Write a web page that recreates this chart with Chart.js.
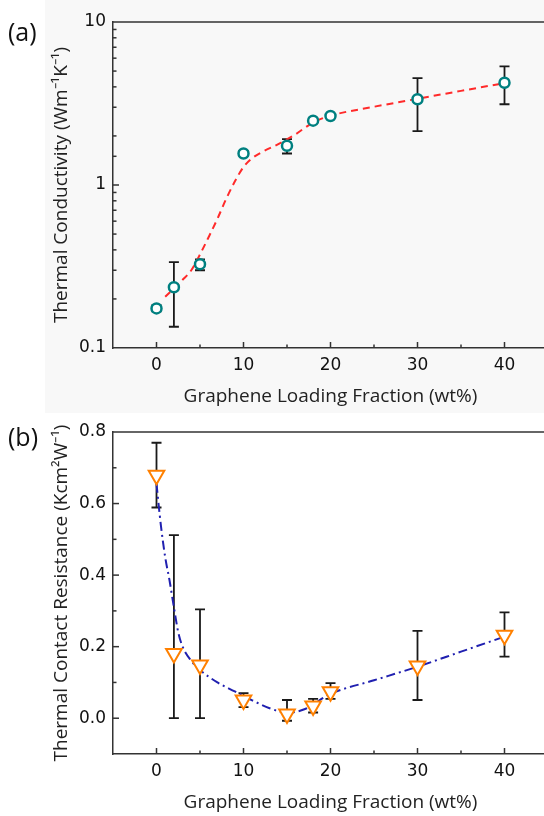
<!DOCTYPE html>
<html>
<head>
<meta charset="utf-8">
<script src="https://cdn.jsdelivr.net/npm/chart.js@4.4.0/dist/chart.umd.min.js"></script>
<style>
  html, body { margin: 0; padding: 0; background: #fff; overflow: hidden; }
  #wrap { position: relative; width: 544px; height: 816px; overflow: hidden; }
  .panel { position: absolute; left: 0; }
  .shade { position: absolute; left: 45px; top: 0; width: 499px; height: 413px; background: #f8f8f8; }
  .tag { position: absolute; left: 8px; font: 25px "Open Sans", sans-serif; color: #111; }
</style>
</head>
<body>
<div id="wrap">
  <div class="shade"></div>
  <canvas id="chartA" class="panel" width="555" height="410" style="top:0"></canvas>
  <canvas id="chartB" class="panel" width="555" height="406" style="top:410px"></canvas>
  <div class="tag" style="top:14px">(a)</div>
  <div class="tag" style="top:419px">(b)</div>
</div>
<script>
// graphene loading (wt%)
const loading = [0, 2, 5, 10, 15, 18, 20, 30, 40];

// (a) thermal conductivity, with error bar ends
const conductivity = [0.175, 0.236, 0.327, 1.56, 1.74, 2.48, 2.65, 3.36, 4.24];
const conductivityHi = [0.183, 0.336, 0.35, 1.62, 1.91, 2.56, 2.73, 4.53, 5.35];
const conductivityLo = [0.168, 0.135, 0.30, 1.51, 1.56, 2.40, 2.58, 2.14, 3.13];
// red dashed guide line
const fitLoadingA = [1, 2, 3, 4, 5, 6, 7, 8, 9, 10, 11, 12, 14, 16, 18, 20, 25, 30, 35, 40];
const fitConductivity = [0.206, 0.232, 0.262, 0.30, 0.375, 0.48, 0.62, 0.82, 1.05, 1.29, 1.46, 1.58, 1.78, 2.05, 2.42, 2.66, 3.02, 3.38, 3.78, 4.22];

// (b) thermal contact resistance, with error bar ends
const resistance = [0.679, 0.181, 0.149, 0.051, 0.012, 0.034, 0.074, 0.146, 0.232];
const resistanceHi = [0.770, 0.512, 0.304, 0.070, 0.051, 0.054, 0.098, 0.244, 0.296];
const resistanceLo = [0.589, 0.0, 0.0, 0.031, -0.007, 0.016, 0.054, 0.051, 0.172];
// blue dash-dot guide line
const fitLoadingB = [0, 0.5, 1, 1.5, 2, 2.5, 3, 4, 5, 7, 9, 11, 13, 15, 17, 20, 25, 30, 35, 40];
const fitResistance = [0.655, 0.54, 0.45, 0.385, 0.31, 0.24, 0.20, 0.16, 0.135, 0.10, 0.075, 0.05, 0.028, 0.015, 0.025, 0.068, 0.106, 0.144, 0.186, 0.228];

const tickFont = { family: "DejaVu Sans", size: 17 };
const titleFont = { family: "Open Sans", size: 19 };

// vertical error bars with caps, under the markers
const errorBars = {
  id: "errorBars",
  beforeDatasetsDraw(chart, args, opts) {
    const ctx = chart.ctx, xs = chart.scales.x, ys = chart.scales.y;
    ctx.save();
    ctx.strokeStyle = "#1a1a1a";
    ctx.lineWidth = 1.8;
    opts.x.forEach((xv, i) => {
      const px = xs.getPixelForValue(xv);
      const top = ys.getPixelForValue(opts.hi[i]);
      const bot = ys.getPixelForValue(opts.lo[i]);
      ctx.beginPath();
      ctx.moveTo(px, top); ctx.lineTo(px, bot);
      ctx.moveTo(px - 5, top); ctx.lineTo(px + 5, top);
      ctx.moveTo(px - 5, bot); ctx.lineTo(px + 5, bot);
      ctx.stroke();
    });
    ctx.restore();
  }
};

// inward tick marks and top frame line
const tickMarks = {
  id: "tickMarks",
  afterDraw(chart) {
    const ctx = chart.ctx, area = chart.chartArea;
    const xs = chart.scales.x, ys = chart.scales.y;
    ctx.save();
    ctx.strokeStyle = "#333";
    ctx.lineWidth = 1.5;
    ctx.beginPath();
    ctx.moveTo(area.left, area.top);
    ctx.lineTo(area.right, area.top);
    ctx.stroke();
    xs.ticks.forEach(t => {
      const px = xs.getPixelForValue(t.value);
      if (px <= area.left + 1 || px >= area.right - 1) return;
      const len = t.label !== "" ? 6 : 3.5;
      ctx.beginPath();
      ctx.moveTo(px, area.bottom);
      ctx.lineTo(px, area.bottom - len);
      ctx.stroke();
    });
    ys.ticks.forEach(t => {
      const py = ys.getPixelForValue(t.value);
      if (py >= area.bottom - 1 || py <= area.top + 1) return;
      const len = t.label !== "" ? 6 : 3.5;
      ctx.beginPath();
      ctx.moveTo(area.left, py);
      ctx.lineTo(area.left + len, py);
      ctx.stroke();
    });
    ctx.restore();
  }
};

function xAxis() {
  return {
    type: "linear", min: -5, max: 45,
    grid: { display: false, drawTicks: false },
    border: { color: "#333", width: 1.5 },
    ticks: {
      stepSize: 5, autoSkip: false, maxRotation: 0, padding: 7, color: "#111", font: tickFont,
      callback: v => (v % 10 === 0 ? String(v) : "")
    },
    title: {
      display: true, text: "Graphene Loading Fraction (wt%)", color: "#222",
      font: titleFont, padding: { top: 0, bottom: 2 }
    },
    afterFit: s => { s.height = 62; }
  };
}

function yTitle(text) {
  return { display: true, text: text, color: "#222", font: titleFont, padding: { top: 50, bottom: 0 } };
}

function points(xv, yv) {
  return xv.map((x, i) => ({ x: x, y: yv[i] }));
}

new Chart(document.getElementById("chartA"), {
  type: "scatter",
  data: {
    datasets: [
      {
        data: points(loading, conductivity),
        pointStyle: "circle", pointRadius: 5, pointBorderWidth: 2.5,
        pointBorderColor: "#008080", pointBackgroundColor: "#fff"
      },
      {
        data: points(fitLoadingA, fitConductivity),
        showLine: true, borderColor: "#ff2a2a", borderWidth: 2, borderDash: [7, 5],
        pointRadius: 0, cubicInterpolationMode: "monotone", fill: false
      }
    ]
  },
  options: {
    responsive: false, animation: false,
    layout: { autoPadding: false, padding: { top: 22, left: 0, right: 0, bottom: 0 } },
    plugins: {
      legend: { display: false }, tooltip: { enabled: false },
      errorBars: { x: loading, hi: conductivityHi, lo: conductivityLo }
    },
    scales: {
      x: xAxis(),
      y: {
        type: "logarithmic", min: 0.1, max: 10,
        grid: { display: false, drawTicks: false },
        border: { color: "#333", width: 1.5 },
        ticks: {
          autoSkip: false, padding: 7, color: "#111", font: tickFont,
          callback: v => {
            const l = Math.log10(v);
            return Math.abs(l - Math.round(l)) < 1e-9 ? String(v) : "";
          }
        },
        title: yTitle("Thermal Conductivity (Wm\u207B\u00B9K\u207B\u00B9)"),
        afterFit: s => { s.width = 113; }
      }
    }
  },
  plugins: [errorBars, tickMarks]
});

new Chart(document.getElementById("chartB"), {
  type: "scatter",
  data: {
    datasets: [
      {
        data: points(loading, resistance),
        pointStyle: "triangle", rotation: 180, pointRadius: 9, pointBorderWidth: 2,
        pointBorderColor: "#ff8000", pointBackgroundColor: "#fff"
      },
      {
        data: points(fitLoadingB, fitResistance),
        showLine: true, borderColor: "#2020b0", borderWidth: 2, borderDash: [9, 4, 2, 4],
        pointRadius: 0, cubicInterpolationMode: "monotone", fill: false
      }
    ]
  },
  options: {
    responsive: false, animation: false,
    layout: { autoPadding: false, padding: { top: 22, left: 0, right: 0, bottom: 0 } },
    plugins: {
      legend: { display: false }, tooltip: { enabled: false },
      errorBars: { x: loading, hi: resistanceHi, lo: resistanceLo }
    },
    scales: {
      x: xAxis(),
      y: {
        type: "linear", min: -0.1, max: 0.8,
        grid: { display: false, drawTicks: false },
        border: { color: "#333", width: 1.5 },
        ticks: {
          stepSize: 0.1, autoSkip: false, padding: 7, color: "#111", font: tickFont,
          callback: v => {
            const k = Math.round(v * 10);
            return k >= 0 && k % 2 === 0 ? (k / 10).toFixed(1) : "";
          }
        },
        title: yTitle("Thermal Contact Resistance (Kcm\u00B2W\u207B\u00B9)"),
        afterFit: s => { s.width = 113; }
      }
    }
  },
  plugins: [errorBars, tickMarks]
});
</script>
</body>
</html>
